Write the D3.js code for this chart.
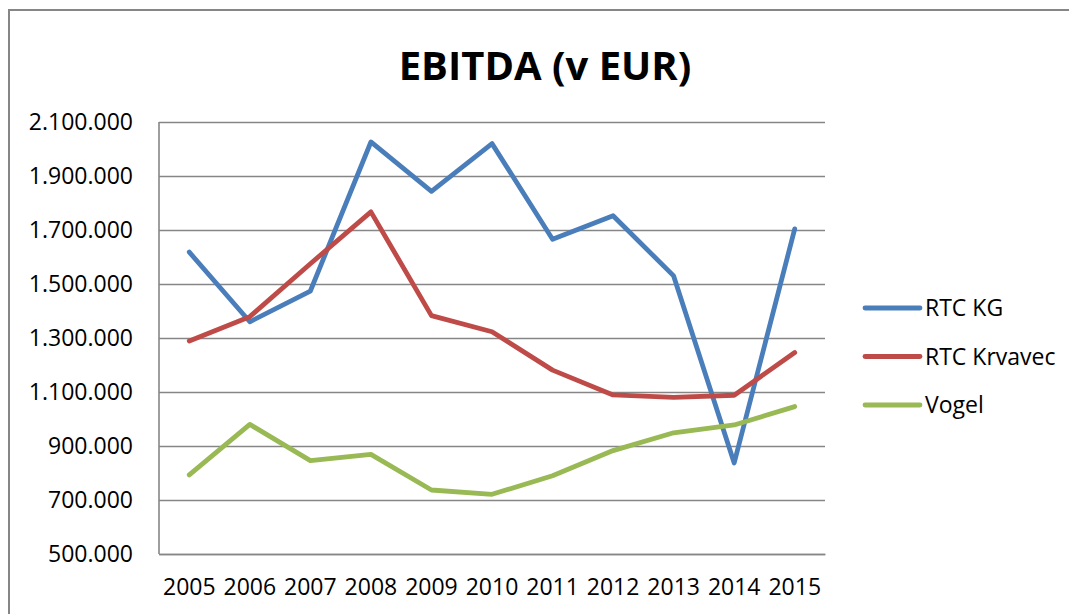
<!DOCTYPE html>
<html>
<head>
<meta charset="utf-8">
<script src="https://cdn.jsdelivr.net/npm/d3@7"></script>
<style>
  body { margin: 0; background: #fff; }
  svg { display: block; font-family: 'Open Sans', sans-serif; }
</style>
</head>
<body>
<svg width="1069" height="614"></svg>
<script>
var years = ['2005', '2006', '2007', '2008', '2009', '2010', '2011', '2012', '2013', '2014', '2015']
var rtcKg = [1618000, 1360000, 1474000, 2026000, 1843000, 2020000, 1666000, 1753000, 1530000, 837000, 1704000]
var rtcKrvavec = [1289000, 1379000, 1575000, 1767000, 1383000, 1323000, 1181000, 1089000, 1080000, 1088000, 1246000]
var vogel = [793000, 980000, 846000, 869000, 737000, 721000, 790000, 883000, 949000, 978000, 1046000]
var seriesNames = ['RTC KG', 'RTC Krvavec', 'Vogel']
var seriesColors = ['#4a7ebb', '#be4b48', '#98b954']
var yTicks = [500000, 700000, 900000, 1100000, 1300000, 1500000, 1700000, 1900000, 2100000]

var chart = () => {
  var svg = d3.select('svg')
  var margin = {top: 122, right: 244, bottom: 60, left: 159}
  var width = 1069
  var height = 614

  var formatTick = d => d3.format(',')(d).replace(/,/g, '.')

  // outer chart frame (only left and top edges visible in the crop)
  svg.append('path')
    .attr('d', 'M9,614V10H1069')
    .attr('fill', 'none')
    .attr('stroke', '#868686')
    .attr('stroke-width', 2)

  svg.append('text')
    .attr('x', 545)
    .attr('y', 80)
    .attr('text-anchor', 'middle')
    .attr('font-weight', 'bold')
    .attr('font-size', 40)
    .attr('fill', '#000')
    .text('EBITDA (v EUR)')

  var x = d3.scaleBand()
    .domain(years)
    .range([margin.left, width - margin.right])

  var y = d3.scaleLinear()
    .domain([500000, 2100000])
    .range([height - margin.bottom, margin.top])

  var yAxis = g => g.attr('transform', `translate(${margin.left}, 0)`)
    .call(d3.axisLeft(y).tickValues(yTicks).tickFormat(formatTick)
      .tickSize(-(width - margin.right - margin.left)).tickPadding(26))
    .call(g => g.select('.domain').remove())
    .call(g => g.selectAll('.tick line').attr('stroke', '#868686').attr('stroke-width', 1.6))
    .call(g => g.selectAll('.tick text').attr('font-size', 23).attr('fill', '#000')
      .attr('font-family', "'Open Sans', sans-serif"))

  var xAxis = g => g.attr('transform', `translate(0, ${height - margin.bottom})`)
    .call(d3.axisBottom(x).tickSize(0).tickPadding(25))
    .call(g => g.select('.domain').attr('stroke', '#868686').attr('stroke-width', 1.6))
    .call(g => g.selectAll('.tick text').attr('font-size', 23).attr('fill', '#000')
      .attr('font-family', "'Open Sans', sans-serif"))

  svg.append('g').attr('id', 'y-axis').call(yAxis)
  svg.append('g').attr('id', 'x-axis').call(xAxis)

  svg.append('line')
    .attr('x1', margin.left).attr('x2', margin.left)
    .attr('y1', margin.top).attr('y2', height - margin.bottom)
    .attr('stroke', '#868686')
    .attr('stroke-width', 1.6)

  var line = d3.line()
    .x((d, i) => x(years[i]) + x.bandwidth() / 2)
    .y(d => y(d))

  var allSeries = [rtcKg, rtcKrvavec, vogel]

  svg.append('g')
    .selectAll('path').data(allSeries).enter().append('path')
    .attr('d', d => line(d))
    .attr('fill', 'none')
    .attr('stroke', (d, i) => seriesColors[i])
    .attr('stroke-width', 4.8)
    .attr('stroke-linecap', 'round')
    .attr('stroke-linejoin', 'round')

  var legend = svg.append('g')
    .selectAll('g').data(seriesNames).enter().append('g')
    .attr('transform', (d, i) => `translate(865, ${308 + i * 48.5})`)

  legend.append('line')
    .attr('x1', 0).attr('x2', 55)
    .attr('stroke', (d, i) => seriesColors[i])
    .attr('stroke-width', 4.8)
    .attr('stroke-linecap', 'round')

  legend.append('text')
    .attr('x', 60)
    .attr('dy', '0.35em')
    .attr('font-size', 23)
    .attr('fill', '#000')
    .text(d => d)
}

chart()
</script>
</body>
</html>
